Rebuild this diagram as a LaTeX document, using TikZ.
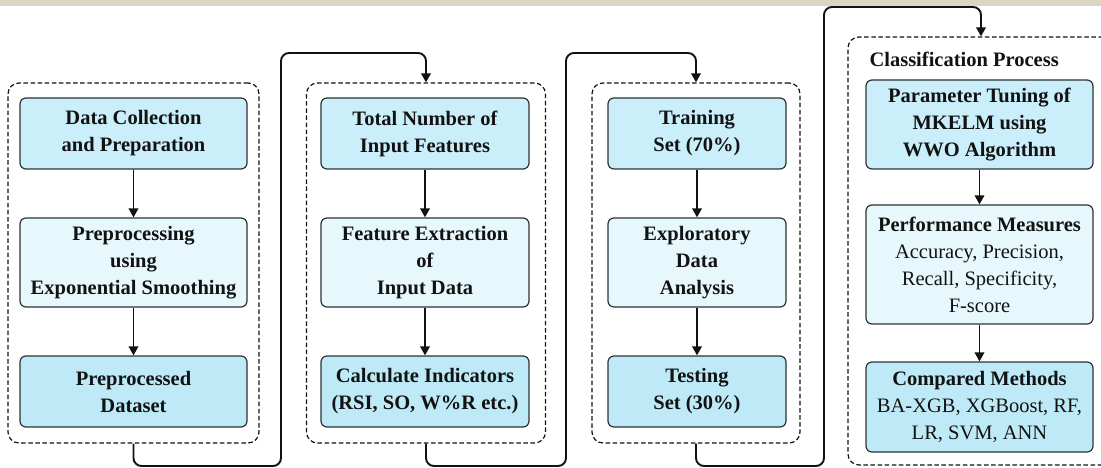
\documentclass[tikz,border=0pt]{standalone}
\usepackage{fontspec}
\setmainfont{Liberation Serif}
\usetikzlibrary{arrows.meta}

\definecolor{bandcol}{RGB}{221,213,196}
\definecolor{boxtop}{RGB}{202,239,251}
\definecolor{boxmid}{RGB}{231,248,253}
\definecolor{boxbot}{RGB}{190,234,248}
\definecolor{edgecol}{RGB}{45,50,52}
\definecolor{inkcol}{RGB}{18,18,18}

\tikzset{
  group/.style={draw=inkcol, dashed, dash pattern=on 4.5pt off 2.6pt, line width=1.2pt,
    rounded corners=11pt, inner sep=0pt},
  stage/.style={draw=edgecol, line width=1.2pt, rounded corners=6pt, align=center,
    inner sep=2pt, text=inkcol, font=\fontsize{20.5}{27}\selectfont\bfseries},
  conn/.style={draw=inkcol, line width=1.9pt, rounded corners=8pt,
    -{Triangle[length=9pt,width=9.5pt]}},
  flow/.style={draw=inkcol, line width=1.9pt, -{Triangle[length=9pt,width=9.5pt]}}
}

\begin{document}
\begin{tikzpicture}[x=1pt, y=-1pt]
\useasboundingbox (0,0) rectangle (1101,468);
\fill[bandcol] (0,0) rectangle (1101,6);

% dashed stage groups
\node[group, minimum width=251pt, minimum height=360pt] (g1) at (133.5,263) {};
\node[group, minimum width=239pt, minimum height=360pt] (g2) at (426,263) {};
\node[group, minimum width=208pt, minimum height=360pt] (g3) at (696,263) {};
\node[group, minimum width=266pt, minimum height=428pt] (g4) at (981,251) {};

% group 1: data
\node[stage, fill=boxtop, minimum width=227pt, minimum height=71pt] (d1) at (133.5,133.5)
  {Data Collection\\and Preparation};
\node[stage, fill=boxmid, minimum width=227pt, minimum height=89pt] (d2) at (133.5,262.5)
  {Preprocessing\\using\\Exponential Smoothing};
\node[stage, fill=boxbot, minimum width=227pt, minimum height=71pt] (d3) at (133.5,391.5)
  {Preprocessed\\Dataset};

% group 2: features
\node[stage, fill=boxtop, minimum width=208pt, minimum height=71pt] (f1) at (425,133.5)
  {Total Number of\\Input Features};
\node[stage, fill=boxmid, minimum width=208pt, minimum height=89pt] (f2) at (425,262.5)
  {Feature Extraction\\of\\Input Data};
\node[stage, fill=boxbot, minimum width=208pt, minimum height=71pt] (f3) at (425,391.5)
  {Calculate Indicators\\(RSI, SO, W\%R etc.)};

% group 3: split
\node[stage, fill=boxtop, minimum width=178pt, minimum height=71pt] (s1) at (697,133.5)
  {Training\\Set (70\%)};
\node[stage, fill=boxmid, minimum width=178pt, minimum height=89pt] (s2) at (697,262.5)
  {Exploratory\\Data\\Analysis};
\node[stage, fill=boxbot, minimum width=178pt, minimum height=71pt] (s3) at (697,391.5)
  {Testing\\Set (30\%)};

% group 4: classification
\node[anchor=west, text=inkcol, font=\fontsize{20.5}{27}\selectfont\bfseries] (ct) at (866,59)
  {Classification Process};
\node[stage, fill=boxtop, minimum width=227pt, minimum height=89pt] (c1) at (979.5,124.5)
  {Parameter Tuning of\\MKELM using\\WWO Algorithm};
\node[stage, fill=boxmid, minimum width=227pt, minimum height=119pt] (c2) at (979.5,264.5)
  {Performance Measures\\{\mdseries Accuracy, Precision,}\\{\mdseries Recall, Specificity,}\\{\mdseries F-score}};
\node[stage, fill=boxbot, minimum width=227pt, minimum height=90pt] (c3) at (979.5,407)
  {Compared Methods\\{\mdseries BA-XGB, XGBoost, RF,}\\{\mdseries LR, SVM, ANN}};

% arrows inside the groups
\draw[flow] (d1) -- (d2);
\draw[flow] (d2) -- (d3);
\draw[flow] (f1) -- (f2);
\draw[flow] (f2) -- (f3);
\draw[flow] (s1) -- (s2);
\draw[flow] (s2) -- (s3);
\draw[flow] (c1) -- (c2);
\draw[flow] (c2) -- (c3);

% links between the groups
\coordinate (r1) at (281,466);
\coordinate (r2) at (566,466);
\coordinate (r3) at (824,466);
\draw[conn] (g1.south) -- (g1.south |- r1) -- (r1) -- (281,53) -- (g2.north |- 0,53) -- (g2.north);
\draw[conn] (g2.south) -- (g2.south |- r2) -- (r2) -- (566,53) -- (g3.north |- 0,53) -- (g3.north);
\draw[conn] (g3.south) -- (g3.south |- r3) -- (r3) -- (824,7) -- (g4.north |- 0,7) -- (g4.north);
\end{tikzpicture}
\end{document}
